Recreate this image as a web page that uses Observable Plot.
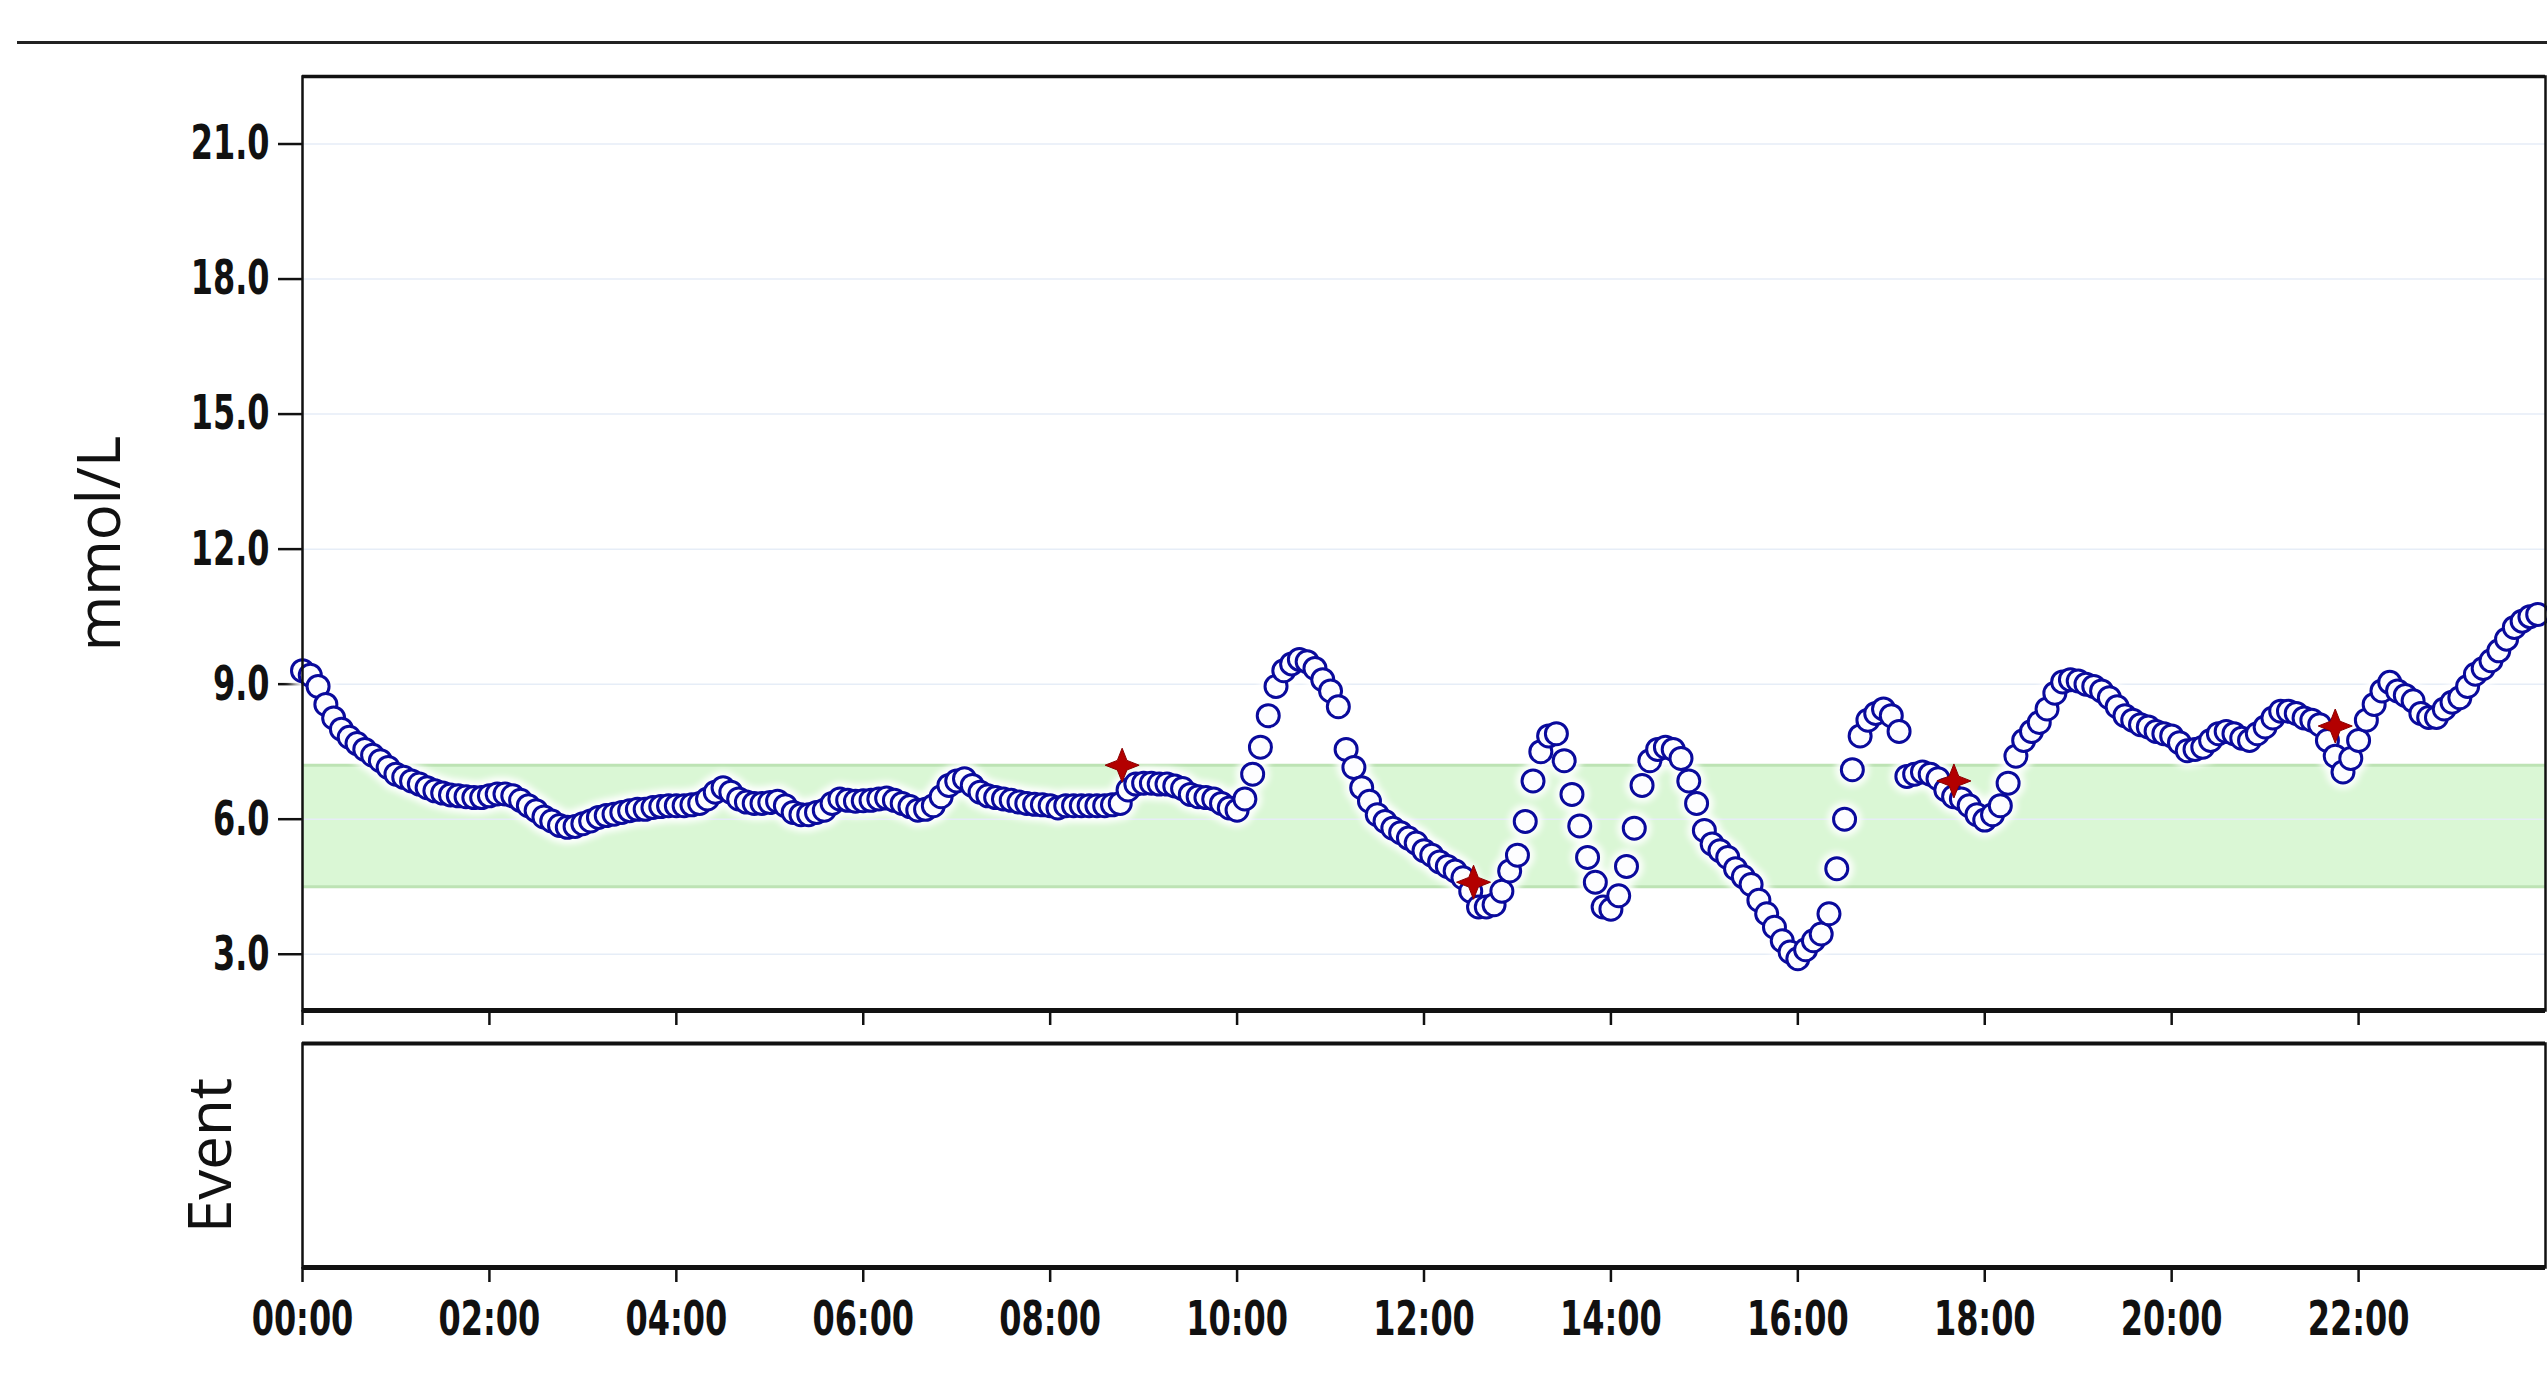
<!DOCTYPE html>
<html><head><meta charset="utf-8">
<script src="https://cdn.jsdelivr.net/npm/d3@7"></script>
<script src="https://cdn.jsdelivr.net/npm/@observablehq/plot@0.6"></script>
<style>
html,body{margin:0;padding:0;background:#fff;width:2547px;height:1390px;overflow:hidden;}
#top-rule{position:absolute;left:17px;top:41px;width:2530px;height:3px;background:#222;}
#chart{position:absolute;left:0;top:0;width:2547px;}
#chart svg{display:block;overflow:visible;}
g[aria-label*="axis"] line, g[aria-label*="axis"] path{stroke-width:2.5px;stroke:#111;}
</style></head><body>
<div id="top-rule"></div>
<div id="chart"></div>
<script>
// Sampling: one CGM reading every 5 minutes, starting 00:00
const stepMinutes = 5;

// Glucose (mmol/L), 00:00 – 05:55
const glucoseNight = [
  9.3, 9.2, 8.95, 8.55, 8.25, 8.0, 7.82, 7.68, 7.55, 7.42, 7.3, 7.15,
  7.0, 6.93, 6.85, 6.78, 6.7, 6.63, 6.58, 6.54, 6.52, 6.5, 6.48, 6.48,
  6.52, 6.56, 6.56, 6.52, 6.42, 6.3, 6.19, 6.05, 5.96, 5.86, 5.82, 5.84,
  5.9, 5.96, 6.04, 6.08, 6.11, 6.15, 6.19, 6.22, 6.22, 6.26, 6.28, 6.3,
  6.3, 6.3, 6.32, 6.35, 6.45, 6.6, 6.7, 6.6, 6.45, 6.38, 6.35, 6.35,
  6.37, 6.4, 6.3, 6.15, 6.1, 6.1, 6.15, 6.2, 6.35, 6.45, 6.42, 6.4
];
// 06:00 – 11:55
const glucoseMorning = [
  6.41, 6.42, 6.45, 6.47, 6.42, 6.35, 6.28, 6.2, 6.22, 6.3, 6.5, 6.75,
  6.85, 6.9, 6.75, 6.6, 6.52, 6.48, 6.45, 6.42, 6.38, 6.35, 6.33, 6.32,
  6.3, 6.25, 6.3, 6.3, 6.3, 6.3, 6.3, 6.3, 6.32, 6.35, 6.65, 6.78,
  6.8, 6.8, 6.78, 6.78, 6.74, 6.68, 6.55, 6.5, 6.48, 6.45, 6.35, 6.25,
  6.2, 6.45, 7.0, 7.6, 8.3, 8.95, 9.3, 9.45, 9.55, 9.5, 9.35, 9.1,
  8.85, 8.5, 7.55, 7.15, 6.7, 6.4, 6.1, 5.95, 5.8, 5.7, 5.58, 5.47
];
// 12:00 – 17:55
const glucoseAfternoon = [
  5.3, 5.2, 5.05, 4.95, 4.85, 4.7, 4.4, 4.05, 4.05, 4.1, 4.4, 4.85,
  5.2, 5.95, 6.85, 7.5, 7.85, 7.9, 7.3, 6.55, 5.85, 5.15, 4.6, 4.05,
  4.0, 4.3, 4.95, 5.8, 6.75, 7.3, 7.55, 7.6, 7.55, 7.35, 6.85, 6.35,
  5.75, 5.45, 5.3, 5.15, 4.9, 4.72, 4.55, 4.2, 3.9, 3.6, 3.3, 3.05,
  2.9, 3.1, 3.3, 3.45, 3.9, 4.9, 6.0, 7.1, 7.85, 8.2, 8.35, 8.45,
  8.3, 7.95, 6.95, 7.0, 7.05, 7.0, 6.9, 6.65, 6.5, 6.45, 6.3, 6.1
];
// 18:00 – 23:55
const glucoseEvening = [
  5.98, 6.1, 6.3, 6.8, 7.4, 7.75, 7.95, 8.15, 8.45, 8.8, 9.05, 9.1,
  9.07, 9.0, 8.95, 8.85, 8.7, 8.5, 8.3, 8.2, 8.1, 8.05, 7.95, 7.9,
  7.85, 7.7, 7.52, 7.55, 7.6, 7.75, 7.9, 7.95, 7.9, 7.8, 7.75, 7.9,
  8.05, 8.25, 8.4, 8.4, 8.35, 8.25, 8.2, 8.1, 7.75, 7.4, 7.05, 7.35,
  7.75, 8.2, 8.55, 8.85, 9.04, 8.85, 8.75, 8.63, 8.35, 8.26, 8.26, 8.45,
  8.6, 8.7, 8.95, 9.22, 9.35, 9.52, 9.74, 10.0, 10.26, 10.4, 10.5, 10.55
];

// Event markers (meter readings), hour of day and mmol/L
const eventHours = [8.77, 12.53, 17.67, 21.75];
const eventValues = [7.2, 4.6, 6.85, 8.07];

// Target range
const targetLow = 4.5;
const targetHigh = 7.2;

// Axes
const yTicks = [3, 6, 9, 12, 15, 18, 21];
const xTicks = [0, 2, 4, 6, 8, 10, 12, 14, 16, 18, 20, 22];
const xTickLabels = ["00:00","02:00","04:00","06:00","08:00","10:00","12:00","14:00","16:00","18:00","20:00","22:00"];
const yLabel = "mmol/L";
const eventLabel = "Event";

// Build tables
const glucose = [...glucoseNight, ...glucoseMorning, ...glucoseAfternoon, ...glucoseEvening]
  .map((v, i) => ({hour: i * stepMinutes / 60, value: v}));
const events = eventHours.map((h, i) => ({hour: h, value: eventValues[i]}));

// Four-pointed star symbol
const star4 = {
  draw(context, size) {
    const r = Math.sqrt(size / Math.PI);
    const ri = r * 0.4;
    for (let i = 0; i < 8; i++) {
      const a = i * Math.PI / 4 - Math.PI / 2;
      const rr = i % 2 === 0 ? r : ri;
      const x = rr * Math.cos(a), y = rr * Math.sin(a);
      if (i === 0) context.moveTo(x, y); else context.lineTo(x, y);
    }
    context.closePath();
  }
};

const tickFont = "'DejaVu Sans Condensed', 'DejaVu Sans', sans-serif";
const titleFont = "'Open Sans', 'Noto Sans', sans-serif";
const baseStyle = {fontFamily: tickFont, fontSize: "48px", fontWeight: "bold", color: "#111", background: "transparent", overflow: "visible"};

const main = Plot.plot({
  width: 2547, height: 1030,
  marginTop: 76, marginBottom: 20, marginLeft: 302, marginRight: 2,
  style: baseStyle,
  x: {domain: [0, 24], ticks: xTicks, tickFormat: () => "", tickSize: 15, label: null},
  y: {domain: [1.75, 22.5], ticks: yTicks, tickFormat: d => d.toFixed(1), tickSize: 24, tickPadding: 9, label: null},
  marks: [
    Plot.rect([{lo: targetLow, hi: targetHigh}], {x1: 0, x2: 24, y1: "lo", y2: "hi", fill: "#daf7d5"}),
    Plot.ruleY([targetLow, targetHigh], {stroke: "#bde3b4", strokeWidth: 3}),
    Plot.ruleY(yTicks, {stroke: "#e6edf7", strokeWidth: 1.5}),
    Plot.dot(glucose, {x: "hour", y: "value", r: 17, fill: "white", fillOpacity: 0.9, stroke: "none", imageFilter: "blur(3px)"}),
    Plot.dot(glucose, {x: "hour", y: "value", r: 11, fill: "#fdfdff", stroke: "#0a0a9c", strokeWidth: 3}),
    Plot.dot(events, {x: "hour", y: "value", r: 17, symbol: star4, fill: "#b30000", stroke: "#8a0000", strokeWidth: 1}),
    Plot.frame({stroke: "#111", strokeWidth: 2.5}),
    Plot.ruleY([22.5], {stroke: "#111", strokeWidth: 3.5}),
    Plot.ruleY([1.75], {stroke: "#111", strokeWidth: 5}),
    Plot.text([yLabel], {text: d => d, frameAnchor: "left", dx: -202, rotate: -90, fontFamily: titleFont, fontSize: 60, fontWeight: "normal", textAnchor: "middle", lineAnchor: "middle", fill: "#111"})
  ]
});

const ev = Plot.plot({
  width: 2547, height: 360,
  marginTop: 13, marginBottom: 123, marginLeft: 302, marginRight: 2,
  style: baseStyle,
  x: {domain: [0, 24], ticks: xTicks, tickFormat: d => xTickLabels[xTicks.indexOf(d)], tickSize: 15, tickPadding: 18, label: null},
  y: {domain: [0, 1], axis: null},
  marks: [
    Plot.frame({stroke: "#111", strokeWidth: 2.5}),
    Plot.ruleY([0], {stroke: "#111", strokeWidth: 5}),
    Plot.ruleY([1], {stroke: "#111", strokeWidth: 4}),
    Plot.text([eventLabel], {text: d => d, frameAnchor: "left", dx: -91, rotate: -90, fontFamily: titleFont, fontSize: 60, fontWeight: "normal", textAnchor: "middle", lineAnchor: "middle", fill: "#111"})
  ]
});

const host = document.getElementById("chart");
host.appendChild(main);
host.appendChild(ev);

// Condense the tick labels horizontally (the reference uses a condensed face)
for (const svg of [main, ev]) {
  svg.querySelectorAll('g[aria-label*="axis"] text').forEach(t => {
    const w = t.getComputedTextLength();
    if (w > 0) {
      t.setAttribute("textLength", (w * 0.74).toFixed(1));
      t.setAttribute("lengthAdjust", "spacingAndGlyphs");
    }
  });
}
</script>
</body></html>
